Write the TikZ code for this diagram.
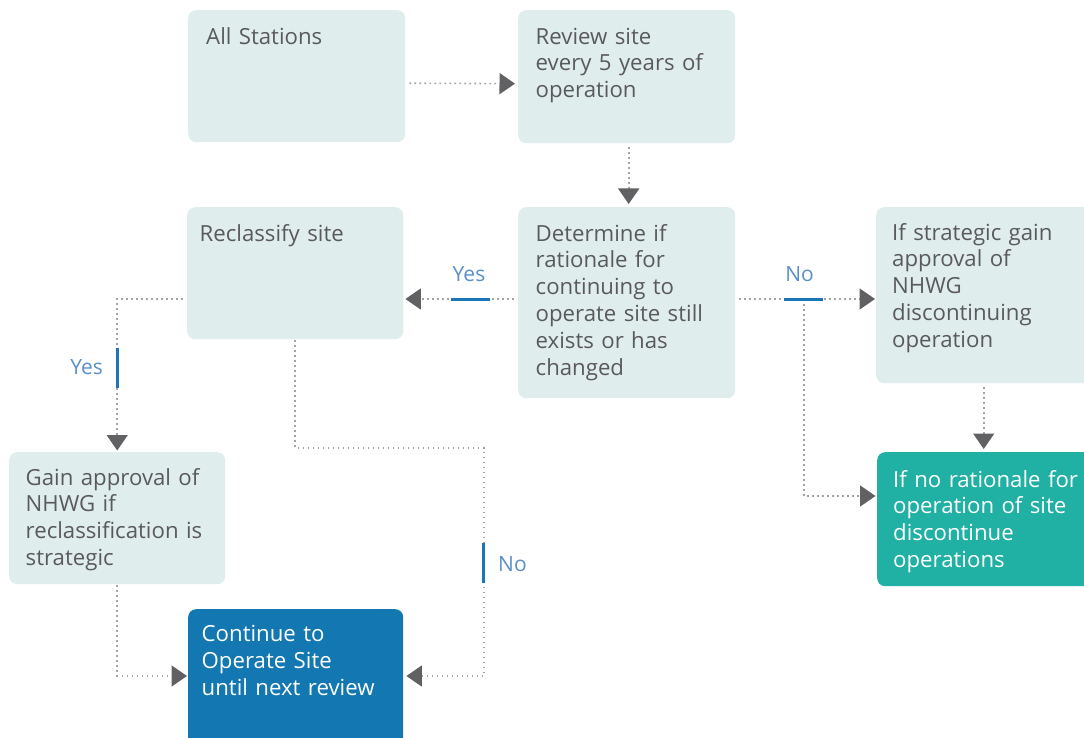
\documentclass[tikz,border=0pt]{standalone}
\usepackage{fontspec}
\setmainfont{Open Sans}
\usetikzlibrary{arrows.meta}
\definecolor{boxfill}{HTML}{DFEDED}
\definecolor{txtgray}{HTML}{5A5A5C}
\definecolor{dotgray}{HTML}{A3A3A3}
\definecolor{arrowgray}{HTML}{616163}
\definecolor{contblue}{HTML}{1378B1}
\definecolor{tealbox}{HTML}{20B0A4}
\definecolor{lblblue}{HTML}{5B8FC7}
\definecolor{barblue}{HTML}{1A76B6}
\begin{document}
\begin{tikzpicture}[x = 1pt, y = -1pt,
  box/.style = {fill = #1, rounded corners = 8pt, anchor = north west, inner sep = 0pt, minimum width = 217pt},
  box/.default = boxfill,
  boxtext/.style = {anchor = north west, inner sep = 0pt, text width = 215pt, align = left, text = #1, font = \fontsize{22.2}{26.8}\selectfont},
  boxtext/.default = txtgray,
  flow/.style = {draw = dotgray, line width = 1.6pt, dash pattern = on 1.6pt off 3.4pt, shorten <= 4pt, shorten >= 3pt, -{Triangle[length = 15.5pt, width = 21pt, color = arrowgray]}},
  lbl/.style = {anchor = base, text = lblblue, inner sep = 0pt, font = \fontsize{21}{25}\selectfont},
  hbar/.style = {fill = barblue, inner sep = 0pt, minimum width = 39pt, minimum height = 3pt},
  vbar/.style = {fill = barblue, inner sep = 0pt, minimum width = 3pt, minimum height = 40pt}]
\useasboundingbox (0, 0) rectangle (1084, 738);

% boxes
\node [box, minimum height = 132pt] (all) at (188, 10) {};
\node [box, minimum height = 133pt] (review) at (518, 10) {};
\node [box, minimum width = 216pt, minimum height = 132pt] (reclass) at (187, 207) {};
\node [box, minimum height = 191pt] (determine) at (518, 207) {};
\node [box, minimum width = 216pt, minimum height = 176pt] (strategic) at (876, 207) {};
\node [box, minimum width = 216pt, minimum height = 132pt] (gain) at (9, 452) {};
\node [box = tealbox, minimum width = 216pt, minimum height = 134pt] (norat) at (877, 452) {};
\node [box = contblue, minimum width = 215pt, minimum height = 145pt] (cont) at (188, 609) {};

% box texts
\node [boxtext] (allT) at ([shift = {(18, 15.2)}]all.north west) {\strut All Stations};
\node [boxtext] (reviewT) at ([shift = {(17.5, 15.2)}]review.north west) {\strut Review site\\every 5 years of\\operation};
\node [boxtext] (reclassT) at ([shift = {(12.5, 15.2)}]reclass.north west) {\strut Reclassify site};
\node [boxtext] (determineT) at ([shift = {(17.5, 15.2)}]determine.north west) {\strut Determine if\\rationale for\\continuing to\\operate site still\\exists or has\\changed};
\node [boxtext] (strategicT) at ([shift = {(16, 14.2)}]strategic.north west) {\strut If strategic gain\\approval of\\NHWG\\discontinuing\\operation};
\node [boxtext] (gainT) at ([shift = {(16.5, 14.2)}]gain.north west) {\strut Gain approval of\\NHWG if\\reclassification is\\strategic};
\node [boxtext = white] (noratT) at ([shift = {(16, 16.2)}]norat.north west) {\strut If no rationale for\\operation of site\\discontinue\\operations};
\node [boxtext = white] (contT) at ([shift = {(13.5, 14)}]cont.north west) {\strut Continue to\\Operate Site\\until next review};

% levels of the connectors
\coordinate (lvlA) at (0, 299);
\coordinate (lvlB) at (0, 496);
\coordinate (turnR) at (484, 448);
\coordinate (lvlE) at (0, 676);

% connectors
\draw [flow] ([yshift = -7pt]all.east) -- ([yshift = -7pt]review.west);
\draw [flow] ([xshift = 2pt]review.south) -- ([xshift = 2pt]determine.north);
\draw [flow, shorten >= 2pt] (determine.west |- lvlA) -- (reclass.east |- lvlA);
\draw [flow, shorten >= 1pt] (determine.east |- lvlA) -- (strategic.west |- lvlA);
\draw [flow, shorten <= 0pt, shorten >= 1.5pt] (804, 299) |- (norat.west |- lvlB);
\draw [flow] ([xshift = -0.5pt]strategic.south) -- ([xshift = -0.5pt]strategic.south |- norat.north);
\draw [flow, shorten >= 1.5pt] (reclass.west |- lvlA) -| (gain.north);
\draw [flow, shorten <= 1pt] (reclass.south) |- (turnR) |- (cont.east |- lvlE);
\draw [flow, shorten <= 1pt, shorten >= 1pt] (gain.south) |- (cont.west |- lvlE);

% Yes / No marks
\node [hbar] (yesBar) at (470, 299) {};
\node [hbar] (noBar) at (803.5, 299) {};
\node [vbar] (yesVBar) at (117, 368) {};
\node [vbar] (noVBar) at (483.5, 563) {};
\node [lbl] (yesH) at (469, 281.7) {Yes};
\node [lbl] (noH) at (799.5, 281) {No};
\node [lbl] (yesV) at (86.7, 374) {Yes};
\node [lbl] (noV) at (512.5, 571) {No};
\end{tikzpicture}
\end{document}
